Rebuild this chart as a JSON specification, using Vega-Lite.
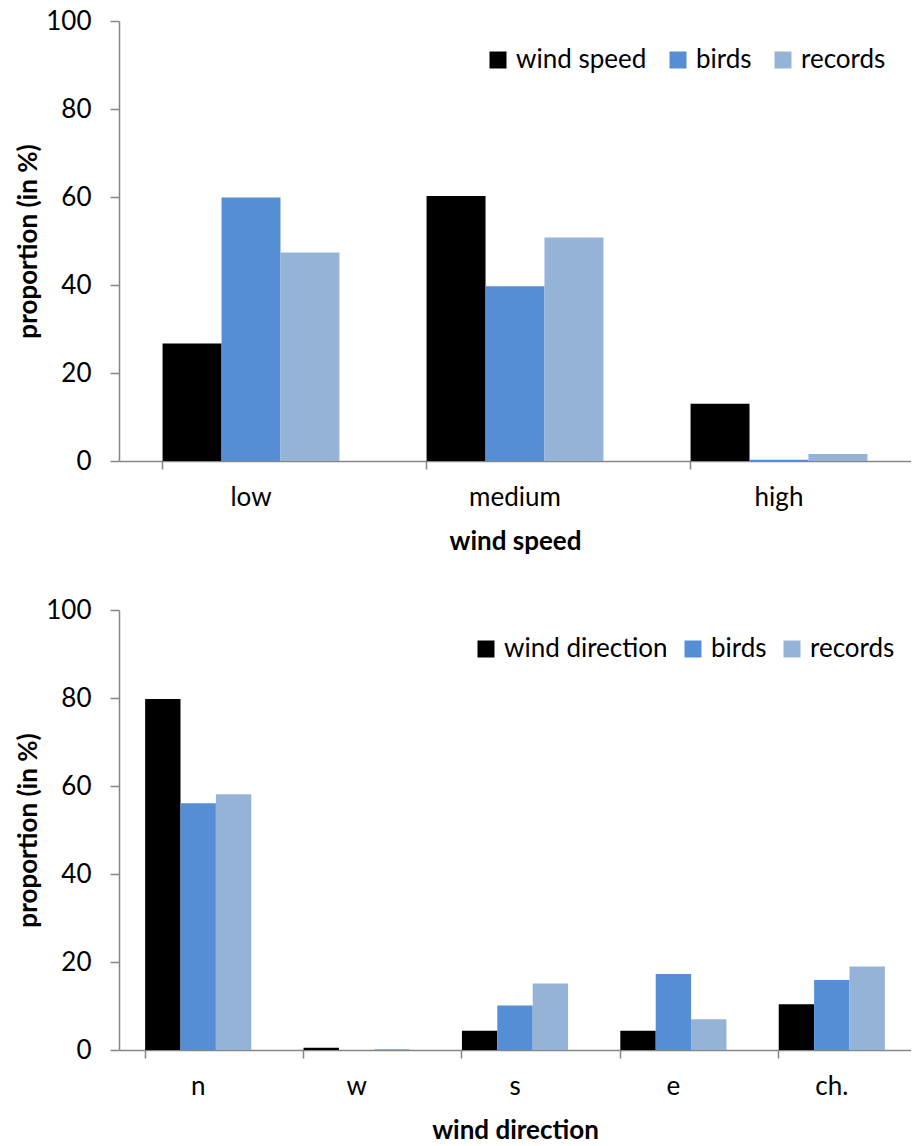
{
  "$schema": "https://vega.github.io/schema/vega-lite/v6.json",
  "padding": {"left": 15, "top": 8, "right": 0, "bottom": 0},
  "spacing": 43,
  "config": {
    "font": "Lato",
    "view": {"stroke": null},
    "axis": {
      "domainColor": "#868686", "tickColor": "#868686", "domainWidth": 1.5, "tickWidth": 1.5,
      "labelColor": "#000000", "titleColor": "#000000", "labelFontSize": 26, "labelFont": "Lato",
      "titleFontSize": 26, "titleFontWeight": "bold", "titleFont": "Lato", "grid": false
    },
    "legend": {"labelFontSize": 26, "labelFont": "Lato", "labelColor": "#000000", "labelLimit": 0, "symbolType": "square", "symbolSize": 289, "symbolStrokeWidth": 0, "labelOffset": 5, "columnPadding": 18}
  },
  "vconcat": [
    {
      "width": 792, "height": 440,
      "data": {"values": [
        {"cat": "low", "series": "wind speed", "value": 26.7},
        {"cat": "low", "series": "birds", "value": 59.9},
        {"cat": "low", "series": "records", "value": 47.4},
        {"cat": "medium", "series": "wind speed", "value": 60.2},
        {"cat": "medium", "series": "birds", "value": 39.7},
        {"cat": "medium", "series": "records", "value": 50.8},
        {"cat": "high", "series": "wind speed", "value": 13.0},
        {"cat": "high", "series": "birds", "value": 0.3},
        {"cat": "high", "series": "records", "value": 1.6}
      ]},
      "mark": {"type": "bar"},
      "encoding": {
        "x": {"field": "cat", "type": "nominal", "sort": ["low", "medium", "high"],
          "scale": {"paddingInner": 0.33, "paddingOuter": 0.165},
          "axis": {"title": "wind speed", "labelAngle": 0, "bandPosition": 0, "tickSize": 8, "labelPadding": 15, "titlePadding": 18}},
        "xOffset": {"field": "series", "type": "nominal", "sort": ["wind speed", "birds", "records"], "scale": {"paddingInner": 0, "paddingOuter": 0}},
        "y": {"field": "value", "type": "quantitative", "scale": {"domain": [0, 100]},
          "axis": {"title": "proportion (in %)", "values": [0, 20, 40, 60, 80, 100], "tickSize": 9, "labelPadding": 19, "titlePadding": 4}},
        "color": {"field": "series", "type": "nominal",
          "scale": {"domain": ["wind speed", "birds", "records"], "range": ["#000000", "#558ED5", "#95B3D7"]},
          "legend": {"title": null, "orient": "none", "legendX": 366, "legendY": 26, "direction": "horizontal"}}
      }
    },
    {
      "width": 792, "height": 440,
      "data": {"values": [
        {"cat": "n", "series": "wind direction", "value": 79.8},
        {"cat": "n", "series": "birds", "value": 56.1},
        {"cat": "n", "series": "records", "value": 58.1},
        {"cat": "w", "series": "wind direction", "value": 0.5},
        {"cat": "w", "series": "birds", "value": 0},
        {"cat": "w", "series": "records", "value": 0.2},
        {"cat": "s", "series": "wind direction", "value": 4.4},
        {"cat": "s", "series": "birds", "value": 10.1},
        {"cat": "s", "series": "records", "value": 15.1},
        {"cat": "e", "series": "wind direction", "value": 4.4},
        {"cat": "e", "series": "birds", "value": 17.3},
        {"cat": "e", "series": "records", "value": 7.0},
        {"cat": "ch.", "series": "wind direction", "value": 10.4},
        {"cat": "ch.", "series": "birds", "value": 15.9},
        {"cat": "ch.", "series": "records", "value": 19.0}
      ]},
      "mark": {"type": "bar"},
      "encoding": {
        "x": {"field": "cat", "type": "nominal", "sort": ["n", "w", "s", "e", "ch."],
          "scale": {"paddingInner": 0.33, "paddingOuter": 0.165},
          "axis": {"title": "wind direction", "labelAngle": 0, "bandPosition": 0, "tickSize": 8, "labelPadding": 15, "titlePadding": 18}},
        "xOffset": {"field": "series", "type": "nominal", "sort": ["wind direction", "birds", "records"], "scale": {"paddingInner": 0, "paddingOuter": 0}},
        "y": {"field": "value", "type": "quantitative", "scale": {"domain": [0, 100]},
          "axis": {"title": "proportion (in %)", "values": [0, 20, 40, 60, 80, 100], "tickSize": 9, "labelPadding": 19, "titlePadding": 4}},
        "color": {"field": "series", "type": "nominal",
          "scale": {"domain": ["wind direction", "birds", "records"], "range": ["#000000", "#558ED5", "#95B3D7"]},
          "legend": {"title": null, "orient": "none", "legendX": 354, "legendY": 26, "direction": "horizontal", "columnPadding": 12}}
      }
    }
  ],
  "resolve": {"scale": {"color": "independent", "x": "independent", "xOffset": "independent"}, "legend": {"color": "independent"}}
}
